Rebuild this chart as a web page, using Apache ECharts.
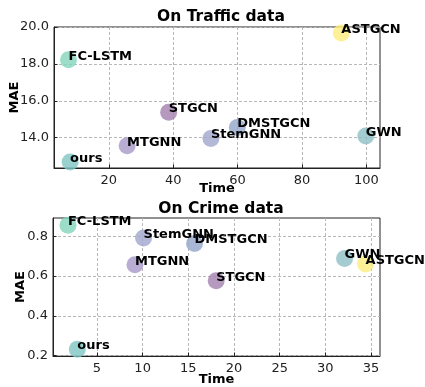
<!DOCTYPE html>
<html>
<head>
<meta charset="utf-8">
<script src="https://cdn.jsdelivr.net/npm/echarts@6/dist/echarts.min.js"></script>
<style>html,body{margin:0;padding:0;background:#fff}#c{width:425px;height:387px}</style>
</head>
<body>
<div id="c"></div>
<script>
const trafficNames = ['FC-LSTM','ours','MTGNN','STGCN','StemGNN','DMSTGCN','ASTGCN','GWN'];
const trafficTime = [7.5, 8.0, 25.7, 38.6, 51.7, 59.9, 92.2, 99.8];
const trafficMAE = [18.22, 12.68, 13.56, 15.38, 13.96, 14.55, 19.68, 14.09];
const crimeNames = ['FC-LSTM','ours','MTGNN','STGCN','StemGNN','DMSTGCN','ASTGCN','GWN'];
const crimeTime = [1.83, 2.85, 9.16, 18.05, 10.1, 15.68, 34.4, 32.1];
const crimeMAE = [0.857, 0.231, 0.657, 0.576, 0.792, 0.764, 0.661, 0.689];
const modelColors = {
  'FC-LSTM':'#82d4bb','ours':'#80c6c2','MTGNN':'#a898c9','STGCN':'#a37fae',
  'StemGNN':'#a0a6cd','DMSTGCN':'#92a6c9','ASTGCN':'#fcec7c','GWN':'#8dbfc6'
};
const trafficXTicks = [20, 40, 60, 80, 100];
const trafficYTicks = [14, 16, 18, 20];
const crimeXTicks = [5, 10, 15, 20, 25, 30, 35];
const crimeYTicks = [0.2, 0.4, 0.6, 0.8];

const FONT = 'DejaVu Sans';
function pts(names, xs, ys) {
  return names.map((n, i) => ({ name: n, value: [xs[i], ys[i]], itemStyle: { color: modelColors[n] } }));
}
function axis(gridIndex, min, max, ticks, fmt, name, nameGap, isY) {
  return {
    type: 'value', gridIndex, min, max,
    name, nameLocation: 'middle', nameGap, nameMoveOverlap: false,
    nameTextStyle: { fontFamily: FONT, fontWeight: 'bold', fontSize: 13, color: '#000' },
    axisLine: { show: true, lineStyle: { color: '#222', width: 1 } },
    axisTick: { show: true, inside: true, length: 3.5, customValues: ticks, lineStyle: { color: '#222' } },
    axisLabel: { customValues: ticks, formatter: fmt, fontFamily: FONT, fontSize: 13, color: '#222', margin: isY ? 5 : 6 },
    splitLine: { show: true, lineStyle: { color: '#b8b8b8', type: [3, 2], width: 1 } }
  };
}
function labelSeries(xi, yi, data) {
  return {
    type: 'scatter', xAxisIndex: xi, yAxisIndex: yi,
    data: data.map(d => ({ name: d.name, value: d.value })),
    symbolSize: 0, z: 10, silent: true,
    itemStyle: { color: '#000', opacity: 1 },
    label: { show: true, position: [0, 3], align: 'left', verticalAlign: 'bottom',
      formatter: p => p.name, fontFamily: FONT, fontWeight: 'bold', fontSize: 13, color: '#000',
      textBorderWidth: 0 }
  };
}
const chart = echarts.init(document.getElementById('c'), null, { renderer: 'canvas' });
const tData = pts(trafficNames, trafficTime, trafficMAE);
const cData = pts(crimeNames, crimeTime, crimeMAE);
chart.setOption({
  animation: false,
  title: [
    { text: 'On Traffic data', left: 216, top: 4, textAlign: 'center',
      textStyle: { fontFamily: FONT, fontWeight: 'bold', fontSize: 15.5, color: '#000' } },
    { text: 'On Crime data', left: 216, top: 196, textAlign: 'center',
      textStyle: { fontFamily: FONT, fontWeight: 'bold', fontSize: 15.5, color: '#000' } }
  ],
  grid: [
    { left: 53, top: 27, width: 327, height: 141, show: true, borderColor: '#222', borderWidth: 1, backgroundColor: 'transparent' },
    { left: 53, top: 218, width: 327, height: 141, show: true, borderColor: '#222', borderWidth: 1, backgroundColor: 'transparent' }
  ],
  xAxis: [
    axis(0, 3, 104.2, trafficXTicks, v => String(v), 'Time', 14, false),
    axis(1, 0.19, 35.98, crimeXTicks, v => String(v), 'Time', 17, false)
  ],
  yAxis: [
    axis(0, 12.36, 20.0, trafficYTicks, v => v.toFixed(1), 'MAE', 33, true),
    axis(1, 0.197, 0.893, crimeYTicks, v => v.toFixed(1), 'MAE', 26, true)
  ],
  series: [
    { type: 'scatter', xAxisIndex: 0, yAxisIndex: 0, data: tData, symbolSize: 17, z: 2 },
    { type: 'scatter', xAxisIndex: 1, yAxisIndex: 1, data: cData, symbolSize: 17, z: 2 },
    labelSeries(0, 0, tData),
    labelSeries(1, 1, cData)
  ]
});
</script>
</body>
</html>
